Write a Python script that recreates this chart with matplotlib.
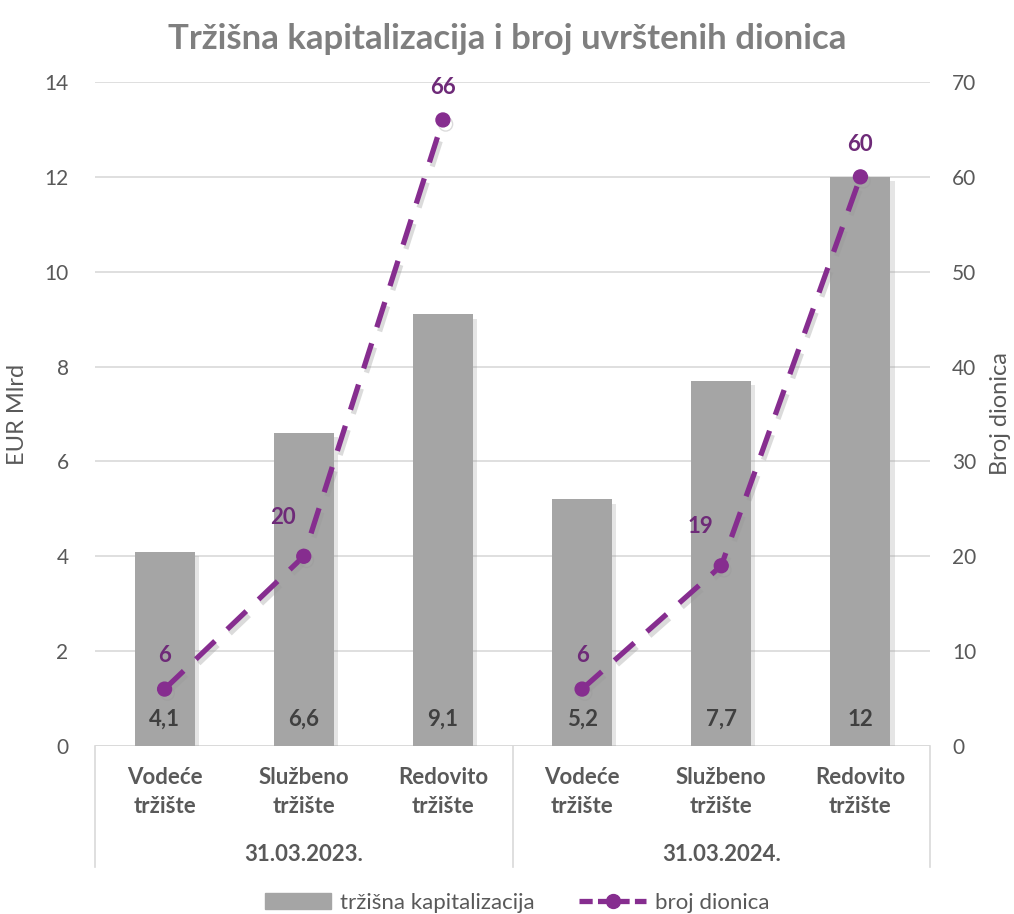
import matplotlib.pyplot as plt
import matplotlib.patheffects as pe
from matplotlib.lines import Line2D
from matplotlib.patches import Patch

plt.rcParams['font.family'] = ['Lato', 'DejaVu Sans']

# data
markets = ["Vodeće\ntržište", "Službeno\ntržište", "Redovito\ntržište"]
dates = ["31.03.2023.", "31.03.2024."]
kapitalizacija = [4.1, 6.6, 9.1, 5.2, 7.7, 12]
kap_labels = ["4,1", "6,6", "9,1", "5,2", "7,7", "12"]
broj_dionica = [6, 20, 66, 6, 19, 60]

GREY = "#A5A5A5"
PURPLE = "#862D8F"
LBL_PURPLE = "#6E2A78"
TXT = "#595959"

fig = plt.figure(figsize=(10.14, 9.14), dpi=100)
ax = fig.add_axes([95/1014, 1-746/914, 835/1014, 664/914])
ax2 = ax.twinx()

x = list(range(len(kapitalizacija)))
shadow = [pe.SimplePatchShadow(offset=(3, -3), shadow_rgbFace="#999999", alpha=0.25), pe.Normal()]
bars = ax.bar(x, kapitalizacija, width=0.43, color=GREY, zorder=2, path_effects=shadow)

for xi, lab in zip(x, kap_labels):
    ax.annotate(lab, (xi, 0), xytext=(0, 19), textcoords="offset points",
                ha="center", va="center", fontsize=16, fontweight="bold", color="#404040", zorder=5)

ax.set_ylim(0, 14)
ax.set_yticks(range(0, 15, 2))
ax.set_xlim(-0.5, 5.5)
ax.grid(axis="y", color="#D9D9D9", linewidth=1.2, zorder=0)
ax.set_axisbelow(True)
ax.tick_params(axis="y", length=0, labelsize=15, labelcolor=TXT, pad=19)
ax.set_xticks([])
for s in ax.spines.values():
    s.set_visible(False)
ax.axhline(0, color="#D9D9D9", linewidth=1.2, zorder=1)

# line drawn separately for each date group
line_shadow = [pe.SimpleLineShadow(offset=(2, -3), shadow_color="#999999", alpha=0.35), pe.Normal()]
for g in range(2):
    xs = x[g * 3:g * 3 + 3]
    ys = broj_dionica[g * 3:g * 3 + 3]
    ax2.plot(xs, ys, color=PURPLE, linewidth=3.8, linestyle=(0, (5, 3.2)),
             marker="o", markersize=10, zorder=4, path_effects=line_shadow)
label_offsets = [(0, 24), (-15, 28), (0, 23), (0, 24), (-15, 28), (0, 23)]
for xi, v, off in zip(x, broj_dionica, label_offsets):
    ax2.annotate(str(v), (xi, v), xytext=off, textcoords="offset points",
                 ha="center", va="center", fontsize=16, fontweight="bold", color=LBL_PURPLE)
ax2.set_ylim(0, 70)
ax2.set_yticks(range(0, 71, 10))
ax2.tick_params(axis="y", length=0, labelsize=15, labelcolor=TXT, pad=16)
for s in ax2.spines.values():
    s.set_visible(False)

ax.set_ylabel("EUR Mlrd", fontsize=17, color=TXT, labelpad=12)
ax2.set_ylabel("Broj dionica", fontsize=17, color=TXT, labelpad=10)

# category axis
for i, m in enumerate(markets * 2):
    ax.text(i, -0.97, m, ha="center", va="center",
            fontsize=16, fontweight="bold", color=TXT, linespacing=1.45, clip_on=False)
for g, d in enumerate(dates):
    ax.text(g * 3 + 1, -2.28, d, ha="center", va="center",
            fontsize=16, fontweight="bold", color=TXT, clip_on=False)
for xs in [-0.5, 2.5, 5.5]:
    ax.add_line(Line2D([xs, xs], [0, -2.55], color="#D9D9D9", linewidth=1.2, clip_on=False))

fig.suptitle("Tržišna kapitalizacija i broj uvrštenih dionica", x=0.5, y=0.975,
             fontsize=25, fontweight="bold", color="#7F7F7F")

handles = [Patch(color=GREY),
           Line2D([], [], color=PURPLE, linewidth=3.8, linestyle=(0, (2.5, 1)), marker="o", markersize=10)]
fig.legend(handles, ["tržišna kapitalizacija", "broj dionica"], loc="center",
           bbox_to_anchor=(0.51, 1 - 903/914), ncol=2, frameon=False, fontsize=16,
           labelcolor=TXT, handlelength=3.0, handleheight=0.7, columnspacing=2.0, handletextpad=0.4)

fig.savefig("out.png", dpi=100)
